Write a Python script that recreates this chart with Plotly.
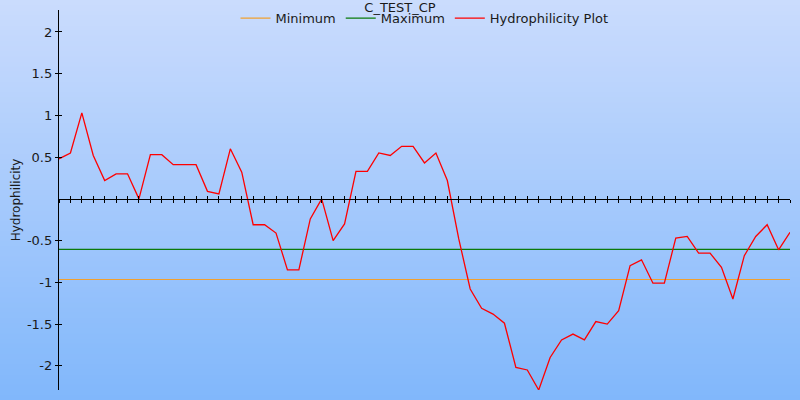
import plotly.graph_objects as go

# ---- data ----
positions = list(range(65))
hydrophilicity = [0.48, 0.55, 1.03, 0.52, 0.22, 0.30, 0.30, 0.00, 0.53, 0.53,
                  0.41, 0.41, 0.41, 0.09, 0.06, 0.60, 0.32, -0.31, -0.31, -0.41,
                  -0.85, -0.85, -0.24, 0.00, -0.50, -0.30, 0.33, 0.33, 0.55, 0.52,
                  0.63, 0.63, 0.43, 0.55, 0.22, -0.48, -1.08, -1.31, -1.38, -1.49,
                  -2.02, -2.05, -2.29, -1.90, -1.69, -1.62, -1.69, -1.47, -1.50, -1.34,
                  -0.80, -0.73, -1.01, -1.01, -0.47, -0.45, -0.65, -0.65, -0.82, -1.20,
                  -0.68, -0.45, -0.31, -0.61, -0.40]
minimum_value = -0.966
maximum_value = -0.606
y_tick_vals = [2, 1.5, 1, 0.5, -0.5, -1, -1.5, -2]
y_tick_text = ["2", "1.5", "1", "0.5", "-0.5", "-1", "-1.5", "-2"]
title_text = "C_TEST_CP"
y_title = "Hydrophilicity"

y_lo, y_hi = -2.29, 2.263
x_lo, x_hi = 0, 64
zero_pos = (0 - y_lo) / (y_hi - y_lo)

font = dict(family="DejaVu Sans", size=13, color="#1a1a1a")

fig = go.Figure()
fig.add_trace(go.Scatter(x=[x_lo, x_hi], y=[minimum_value, minimum_value], mode="lines",
                         name="Minimum", line=dict(color="#f0a030", width=1.1)))
fig.add_trace(go.Scatter(x=[x_lo, x_hi], y=[maximum_value, maximum_value], mode="lines",
                         name="Maximum", line=dict(color="#0a7a0a", width=1.3)))
fig.add_trace(go.Scatter(x=positions, y=hydrophilicity, mode="lines",
                         name="Hydrophilicity Plot", line=dict(color="#ff0000", width=1.3)))
# helper trace so the overlay axes (inner tick halves) are drawn
fig.add_trace(go.Scatter(x=[x_lo], y=[0], xaxis="x2", yaxis="y2", mode="markers",
                         marker=dict(opacity=0), showlegend=False, hoverinfo="skip"))

# vertical gradient background
n = 80
top = (203, 220, 253)
bot = (128, 183, 251)
shapes = []
for i in range(n):
    t = i / (n - 1)
    c = tuple(round(top[k] + (bot[k] - top[k]) * t) for k in range(3))
    y1 = 1.04 - i * (1.08 / n)
    y0 = y1 - 1.08 / n - 0.002
    shapes.append(dict(type="rect", xref="paper", yref="paper", x0=-0.2, x1=1.2,
                       y0=y0, y1=y1, fillcolor="rgb(%d,%d,%d)" % c,
                       line=dict(width=0), layer="below"))

axis_common = dict(showgrid=False, zeroline=False, automargin=False)
fig.update_layout(
    width=800, height=400,
    margin=dict(l=59, r=10, t=10, b=10, autoexpand=False),
    paper_bgcolor="rgb(166,202,252)", plot_bgcolor="rgba(0,0,0,0)",
    font=font,
    shapes=shapes,
    title=dict(text=title_text, x=0.5, xanchor="center", y=0.982, yanchor="middle",
               yref="container", pad=dict(t=0, b=0),
               font=dict(family="DejaVu Sans", size=13, color="#1a1a1a"), automargin=False),
    showlegend=True,
    legend=dict(orientation="h", x=0.5, xanchor="center", y=1.018, yanchor="top",
                itemwidth=30, bgcolor="rgba(0,0,0,0)",
                font=dict(family="DejaVu Sans", size=13, color="#1a1a1a")),
    xaxis=dict(range=[x_lo, x_hi], anchor="free", position=zero_pos, showline=True,
               linecolor="black", linewidth=1.3, ticks="outside", ticklen=3, tickwidth=1.3,
               tickcolor="black", dtick=1, tick0=0, showticklabels=False, **axis_common),
    xaxis2=dict(range=[x_lo, x_hi], overlaying="x", anchor="free", position=zero_pos,
                showline=False, ticks="inside", ticklen=3, tickwidth=1.3, tickcolor="black",
                dtick=1, tick0=0, showticklabels=False, **axis_common),
    yaxis=dict(range=[y_lo, y_hi], showline=True, linecolor="black", linewidth=1.3,
               ticks="outside", ticklen=3, tickwidth=1.3, tickcolor="black",
               tickvals=y_tick_vals, ticktext=y_tick_text,
               title=dict(text=y_title, standoff=3,
                          font=dict(family="DejaVu Sans", size=12, color="#1a1a1a")),
               **axis_common),
    yaxis2=dict(range=[y_lo, y_hi], overlaying="y", side="left", anchor="x2", showline=False,
                ticks="inside", ticklen=3, tickwidth=1.3, tickcolor="black",
                tickvals=y_tick_vals, showticklabels=False, **axis_common),
)

fig.write_html("out.html", config={"displayModeBar": False},
               post_script="document.body.style.margin='0';document.body.style.padding='0';")
